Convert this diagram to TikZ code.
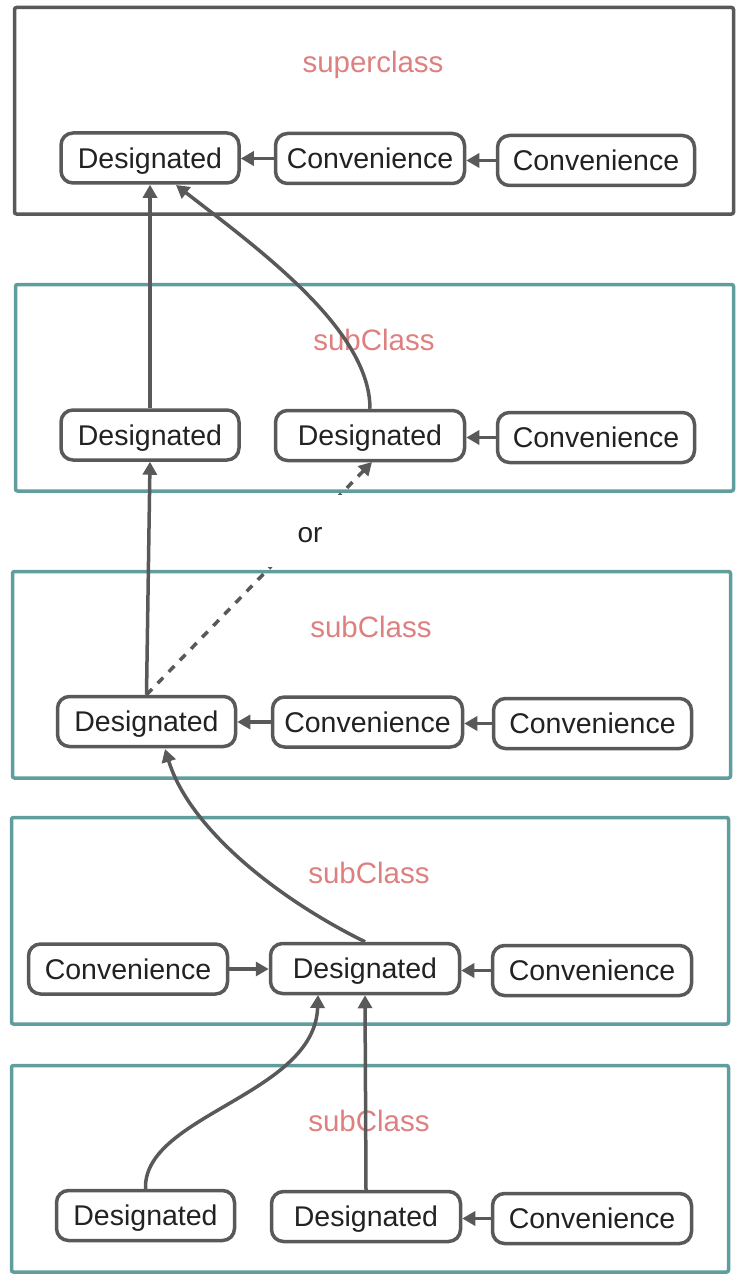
\documentclass[tikz,border=0pt]{standalone}
\usepackage{fontspec}
\setmainfont{Liberation Sans}
\usetikzlibrary{arrows.meta}
\definecolor{lg}{HTML}{595959}
\definecolor{teal2}{HTML}{609D9D}
\definecolor{salmon}{HTML}{DE8080}
\definecolor{txt}{HTML}{222222}
\tikzset{
  frame/.style={draw=teal2, line width=3.5pt, rounded corners=2pt},
  topframe/.style={draw=lg, line width=3.5pt, rounded corners=2pt},
  box/.style={draw=lg, fill=white, line width=3.5pt, rounded corners=12pt,
    minimum height=50pt, inner sep=0pt, text=txt,
    text height=23pt, text depth=3pt,
    font=\fontsize{28.5}{32}\selectfont},
  lab/.style={text=salmon, anchor=base, font=\fontsize{29.5}{32}\selectfont},
  arr/.style={draw=lg, line width=3.5pt, -{Triangle[length=13pt,width=14pt]}},
  darr/.style={arr, dash pattern=on 8pt off 8pt},
}
\begin{document}
\begin{tikzpicture}[x=1pt,y=-1pt]
\useasboundingbox (0,0) rectangle (742,1284);
% frames
\draw[topframe] (14.5,7.5) rectangle (733.5,214);
\draw[frame] (15.5,284.5) rectangle (733.5,491);
\draw[frame] (12.5,571.5) rectangle (730.5,778);
\draw[frame] (11.5,817.5) rectangle (728.5,1024);
\draw[frame] (11.5,1065.5) rectangle (728.5,1272);
% labels
\node[lab] (l1) at (373,73) {superclass};
\node[lab] (l2) at (374,350) {subClass};
\node[lab] (l3) at (371,637) {subClass};
\node[lab] (l4) at (369,883) {subClass};
\node[lab] (l5) at (369,1131) {subClass};
% row 1
\node[box, minimum width=178pt] (d1) at (150,158) {Designated};
\node[box, minimum width=189pt] (c1a) at (370,158.5) {Convenience};
\node[box, minimum width=197pt] (c1b) at (596,160.5) {Convenience};
% row 2
\node[box, minimum width=178pt] (d2a) at (150,435) {Designated};
\node[box, minimum width=189pt] (d2b) at (370,435.5) {Designated};
\node[box, minimum width=197pt] (c2) at (596,437.5) {Convenience};
% row 3
\node[box, minimum width=178pt] (d3) at (146.5,721.5) {Designated};
\node[box, minimum width=190pt] (c3a) at (367.5,722) {Convenience};
\node[box, minimum width=198pt] (c3b) at (592.5,723.5) {Convenience};
% row 4
\node[box, minimum width=199pt] (c4a) at (128,969) {Convenience};
\node[box, minimum width=189pt] (d4) at (365,968.5) {Designated};
\node[box, minimum width=199pt] (c4b) at (592,970.5) {Convenience};
% row 5
\node[box, minimum width=178pt] (d5a) at (145.5,1215.5) {Designated};
\node[box, minimum width=189pt] (d5b) at (366,1216.5) {Designated};
\node[box, minimum width=199pt] (c5) at (592,1218.5) {Convenience};
% target points
\coordinate (t1) at (176,185);
\coordinate (t2) at (372,462);
\coordinate (t3) at (165,749);
\coordinate (t4) at (318,995);
% horizontal arrows
\draw[arr] (c1a.west) -- (d1.east |- c1a.west);
\draw[arr] (c1b.west) -- (c1a.east |- c1b.west);
\draw[arr] (c2.west) -- (d2b.east |- c2.west);
\draw[arr] (c3a.west) -- (d3.east |- c3a.west);
\draw[arr] (c3b.west) -- (c3a.east |- c3b.west);
\draw[arr] (c4a.east) -- (d4.west |- c4a.east);
\draw[arr] (c4b.west) -- (d4.east |- c4b.west);
\draw[arr] (c5.west) -- (d5b.east |- c5.west);
% vertical / curved arrows
\draw[arr] (d2a.north) -- (d1.south);
\draw[arr] (d2b.north) .. controls (370,330) and (260,250) .. (t1);
\draw[arr] (d3.north) -- (d2a.south);
\draw[darr] (d3.north) -- (t2);
\draw[arr] (d4.north) .. controls (280,900) and (190,830) .. (t3);
\draw[arr] (d5a.north) .. controls (143,1115) and (315,1095) .. (t4);
\draw[arr] (d5b.north) -- (d4.south);
% "or" label, masking the dashed line between the frames
\node[fill=white, text=txt, minimum width=84pt, minimum height=72pt, inner sep=0pt,
  font=\fontsize{28}{32}\selectfont] (or) at (310,531) {};
\node[text=txt, anchor=base, font=\fontsize{28}{32}\selectfont] (ortext) at (310,542) {or};
\end{tikzpicture}
\end{document}
